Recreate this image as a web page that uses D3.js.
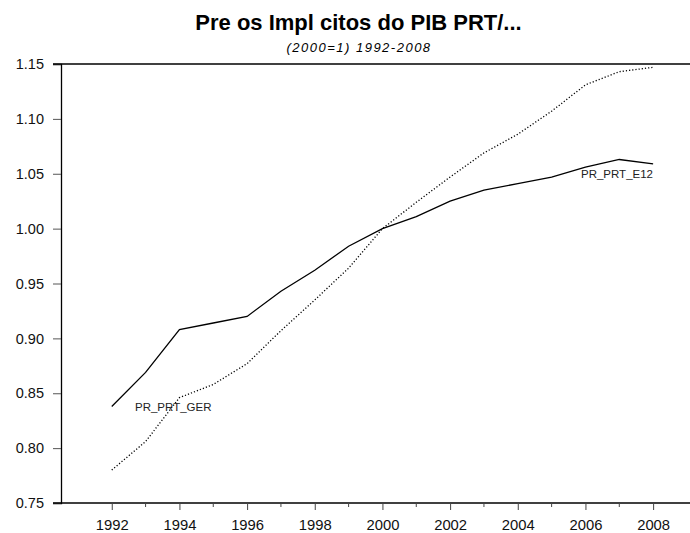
<!DOCTYPE html>
<html>
<head>
<meta charset="utf-8">
<script src="https://cdn.jsdelivr.net/npm/d3@7"></script>
<style>
  body { margin: 0; background: #fff; }
  svg { display: block; font-family: "Liberation Sans", Arial, sans-serif; }
</style>
</head>
<body>
<div id="chart"></div>
<script>
// data
let years = [1992, 1993, 1994, 1995, 1996, 1997, 1998, 1999, 2000,
             2001, 2002, 2003, 2004, 2005, 2006, 2007, 2008];
let solidVals = [0.838, 0.869, 0.908, 0.914, 0.920, 0.943, 0.962, 0.984, 1.000,
                 1.011, 1.025, 1.035, 1.041, 1.047, 1.056, 1.063, 1.059];
let dottedVals = [0.780, 0.806, 0.846, 0.858, 0.877, 0.907, 0.935, 0.964, 1.000,
                  1.024, 1.047, 1.069, 1.086, 1.107, 1.131, 1.143, 1.147];
let yTicks = [0.75, 0.80, 0.85, 0.90, 0.95, 1.00, 1.05, 1.10, 1.15];
let majorYears = [1992, 1994, 1996, 1998, 2000, 2002, 2004, 2006, 2008];
let minorYears = [1993, 1995, 1997, 1999, 2001, 2003, 2005, 2007];

let width = 690, height = 533;
let padLeft = 61, padTop = 64, padBottom = 503;

let svg = d3.select("#chart").append("svg")
  .attr("width", width).attr("height", height);

let x = d3.scaleLinear().domain([1990.5, 2009.09]).range([padLeft, width]);
let y = d3.scaleLinear().domain([0.75, 1.15]).range([padBottom, padTop]);

// titles
svg.append("text")
  .attr("x", 358.5).attr("y", 30)
  .attr("text-anchor", "middle")
  .style("font-size", "22px").style("font-weight", "bold")
  .text("Pre os Impl citos do PIB PRT/...");
svg.append("text")
  .attr("x", 359).attr("y", 52)
  .attr("text-anchor", "middle")
  .style("font-size", "13px").style("font-style", "italic")
  .style("letter-spacing", "1.5px")
  .text("(2000=1) 1992-2008");

// y axis
let yAxis = d3.axisLeft(y).tickValues(yTicks)
  .tickFormat(d3.format(".2f")).tickSize(8).tickPadding(9);
let gy = svg.append("g").attr("transform", "translate(" + padLeft + ",0)").call(yAxis);
gy.select(".domain").attr("stroke", "#000").attr("stroke-width", 1.3);
gy.selectAll(".tick line").attr("stroke", "#555");
gy.selectAll(".tick text")
  .style("font-family", "Liberation Sans, Arial, sans-serif")
  .style("font-size", "14.5px").attr("fill", "#111");

// frame lines at top and bottom
svg.selectAll(".frame")
  .data([1.15, 0.75]).enter()
  .append("line")
  .attr("class", "frame")
  .attr("x1", padLeft - 8).attr("x2", width)
  .attr("y1", d => y(d)).attr("y2", d => y(d))
  .attr("stroke", "#000").attr("stroke-width", 1.3);

// x axis ticks
let xAxis = d3.axisBottom(x).tickValues(majorYears)
  .tickFormat(d3.format("d")).tickSize(7).tickPadding(9);
let gx = svg.append("g").attr("transform", "translate(0," + padBottom + ")").call(xAxis);
gx.select(".domain").remove();
gx.selectAll(".tick line").attr("stroke", "#444");
gx.selectAll(".tick text")
  .style("font-family", "Liberation Sans, Arial, sans-serif")
  .style("font-size", "14.8px").attr("fill", "#111");

svg.append("g").selectAll("line")
  .data(minorYears).enter()
  .append("line")
  .attr("x1", d => x(d)).attr("x2", d => x(d))
  .attr("y1", padBottom).attr("y2", padBottom + 4)
  .attr("stroke", "#444");

// series lines
let line = d3.line().x((d, i) => x(years[i])).y(d => y(d));

svg.append("path")
  .datum(solidVals)
  .attr("d", line)
  .attr("fill", "none")
  .attr("stroke", "#000")
  .attr("stroke-width", 1.3);

svg.append("path")
  .datum(dottedVals)
  .attr("d", line)
  .attr("fill", "none")
  .attr("stroke", "#000")
  .attr("stroke-width", 1.3)
  .attr("stroke-dasharray", "1.2,2");

// series labels
svg.append("text")
  .attr("x", 135).attr("y", 411)
  .style("font-size", "11.5px").attr("fill", "#222")
  .text("PR_PRT_GER");
svg.append("text")
  .attr("x", 653).attr("y", 178)
  .attr("text-anchor", "end")
  .style("font-size", "11.5px").attr("fill", "#222")
  .text("PR_PRT_E12");
</script>
</body>
</html>
